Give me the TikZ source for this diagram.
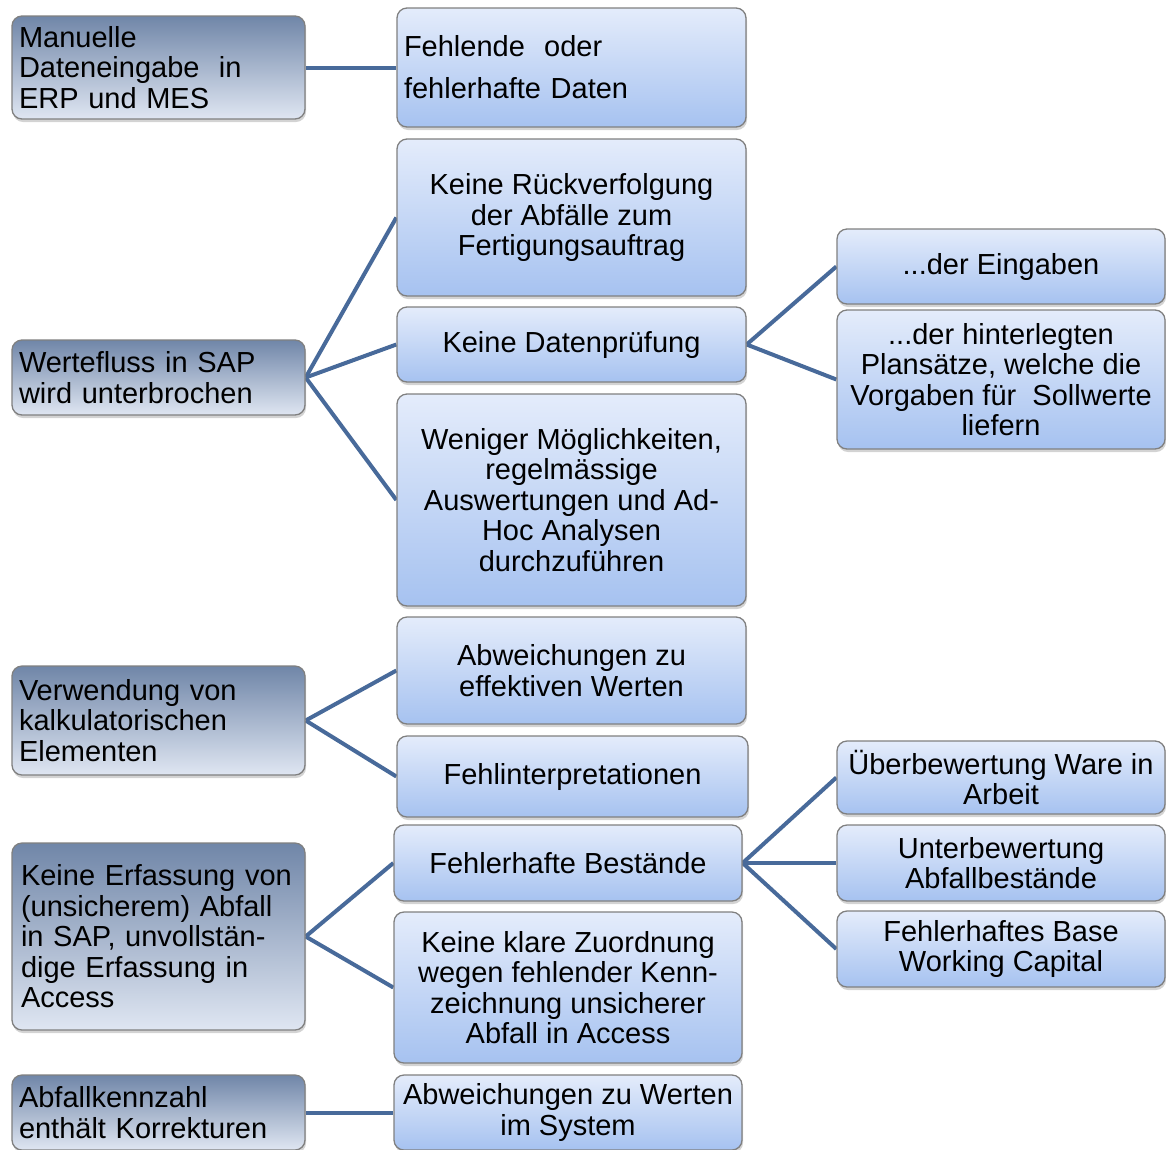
\documentclass[tikz,border=0pt]{standalone}
\usepackage{fontspec}
\setmainfont{Liberation Sans}
\usetikzlibrary{shadows,backgrounds}
\definecolor{lntop}{RGB}{112,134,168}
\definecolor{lnmid}{RGB}{184,199,224}
\definecolor{lnbot}{RGB}{223,230,242}
\definecolor{mntop}{RGB}{228,236,251}
\definecolor{mnbot}{RGB}{166,194,240}
\definecolor{bordc}{RGB}{128,128,128}
\definecolor{linkc}{RGB}{72,106,154}
\begin{document}
\begin{tikzpicture}[x=1pt,y=-1pt,
  basebox/.style={rectangle, rounded corners=10pt, draw=bordc, line width=1.3pt,
    inner sep=0pt, font=\fontsize{29}{30.5}\selectfont,
    drop shadow={opacity=0.35, shadow xshift=1pt, shadow yshift=-3pt}},
  lbox/.style={basebox, shading=axis, top color=lntop, middle color=lnmid, bottom color=lnbot,
    minimum width=293pt, text width=279pt, align=left},
  mbox/.style={basebox, shading=axis, top color=mntop, bottom color=mnbot, align=center},
  link/.style={draw=linkc, line width=4pt}]
\useasboundingbox (0,0) rectangle (1166,1149);
% left column
\node[lbox, minimum height=103pt] (l1) at (158.5,67.5) {Manuelle\\Dateneingabe\ \ in\\ERP und MES};
\node[lbox, minimum height=75pt] (l2) at (158.5,377.5) {Wertefluss in SAP\\wird unterbrochen};
\node[lbox, minimum height=109pt] (l3) at (158.5,720.5) {Verwendung von\\kalkulatorischen\\Elementen};
\node[lbox, minimum height=187pt, text width=275pt, xshift=2pt] (l4) at (156.5,936.5) {Keine Erfassung von\\(unsicherem) Abfall\\in SAP, unvollstän-\\dige Erfassung in\\Access};
\node[lbox, minimum height=75pt] (l5) at (158.5,1112.5) {Abfallkennzahl\\enthält Korrekturen};
% middle column
\node[mbox, minimum width=349pt, minimum height=119pt, text width=335pt, align=left] (m1) at (571.5,67.5) {Fehlende\ \ oder\\[11.5pt]fehlerhafte Daten};
\node[mbox, minimum width=349pt, minimum height=157pt] (m2) at (571.5,217.5) {Keine Rückverfolgung\\der Abfälle zum\\Fertigungsauftrag};
\node[mbox, minimum width=349pt, minimum height=75pt] (m3) at (571.5,344.5) {Keine Datenprüfung};
\node[mbox, minimum width=349pt, minimum height=212pt] (m4) at (571.5,500) {Weniger Möglichkeiten,\\regelmässige\\Auswertungen und Ad-\\Hoc Analysen\\durchzuführen};
\node[mbox, minimum width=349pt, minimum height=107pt] (m5) at (571.5,670.5) {Abweichungen zu\\effektiven Werten};
\node[mbox, minimum width=351pt, minimum height=81pt] (m6) at (572.5,776.5) {Fehlinterpretationen};
\node[mbox, minimum width=348pt, minimum height=76pt] (m7) at (568,863) {Fehlerhafte Bestände};
\node[mbox, minimum width=348pt, minimum height=151pt] (m8) at (568,987.5) {Keine klare Zuordnung\\wegen fehlender Kenn-\\zeichnung unsicherer\\Abfall in Access};
\node[mbox, minimum width=348pt, minimum height=75pt] (m9) at (568,1112.5) {Abweichungen zu Werten\\im System};
% right column
\node[mbox, minimum width=328pt, minimum height=75pt] (r1) at (1001,266.5) {...der Eingaben};
\node[mbox, minimum width=328pt, minimum height=139pt] (r2) at (1001,379.5) {...der hinterlegten\\Plansätze, welche die\\Vorgaben für\ \ Sollwerte\\liefern};
\node[mbox, minimum width=328pt, minimum height=73pt] (r3) at (1001,777.5) {Überbewertung Ware in\\Arbeit};
\node[mbox, minimum width=328pt, minimum height=76pt] (r4) at (1001,863) {Unterbewertung\\Abfallbestände};
\node[mbox, minimum width=328pt, minimum height=76pt] (r5) at (1001,949) {Fehlerhaftes Base\\Working Capital};
% connectors
\begin{pgfonlayer}{background}
\path[link] (l1.east) -- (m1.west);
\path[link] (l2.east) -- (m2.west);
\path[link] (l2.east) -- (m3.west);
\path[link] (l2.east) -- (m4.west);
\path[link] (m3.east) -- (r1.west);
\path[link] (m3.east) -- (r2.west);
\path[link] (l3.east) -- (m5.west);
\path[link] (l3.east) -- (m6.west);
\path[link] (l4.east) -- (m7.west);
\path[link] (l4.east) -- (m8.west);
\path[link] (m7.east) -- (r3.west);
\path[link] (m7.east) -- (r4.west);
\path[link] (m7.east) -- (r5.west);
\path[link] (l5.east) -- (m9.west);
\end{pgfonlayer}
\end{tikzpicture}
\end{document}
